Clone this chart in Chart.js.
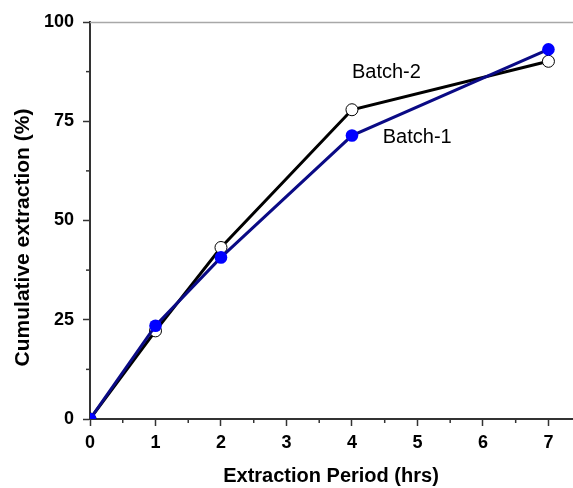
<!DOCTYPE html>
<html>
<head>
<meta charset="utf-8">
<script src="https://cdn.jsdelivr.net/npm/chart.js@4/dist/chart.umd.min.js"></script>
<style>
html,body{margin:0;padding:0;background:#fff;overflow:hidden;}
#wrap{width:573px;height:488px;position:relative;}
canvas{display:block;}
</style>
</head>
<body>
<div id="wrap"><canvas id="c" width="573" height="488"></canvas></div>
<script>
const hours = [0, 1, 2, 4, 7];
const batch1 = [0, 23.5, 40.7, 71.4, 93.1];
const batch2 = [0, 22.2, 43.2, 77.9, 90.1];
const seriesNames = ['Batch-1', 'Batch-2'];
const xTickValues = [0, 0.5, 1, 1.5, 2, 2.5, 3, 3.5, 4, 4.5, 5, 5.5, 6, 6.5, 7];
const xTitle = 'Extraction Period (hrs)';
const yTitle = 'Cumulative extraction (%)';

const toPts = (xs, ys) => xs.map((x, i) => ({x: x, y: ys[i]}));

const decor = {
  id: 'decor',
  afterDraw(chart) {
    const ctx = chart.ctx;
    const ca = chart.chartArea;
    const xs = chart.scales.x, ys = chart.scales.y;
    ctx.save();
    // top frame line
    ctx.strokeStyle = '#a8a8a8';
    ctx.lineWidth = 1.5;
    ctx.beginPath();
    ctx.moveTo(ca.left, ca.top + 0.5);
    ctx.lineTo(chart.width, ca.top + 0.5);
    ctx.stroke();
    // minor ticks
    ctx.strokeStyle = '#333';
    ctx.lineWidth = 1.5;
    xs.ticks.forEach(t => {
      if (Math.abs(t.value - Math.round(t.value)) > 1e-6) {
        const px = xs.getPixelForValue(t.value);
        ctx.beginPath();
        ctx.moveTo(px, ca.bottom);
        ctx.lineTo(px, ca.bottom + 4);
        ctx.stroke();
      }
    });
    ys.ticks.forEach(t => {
      if (Math.abs(t.value % 25) > 1e-6) {
        const py = ys.getPixelForValue(t.value);
        ctx.beginPath();
        ctx.moveTo(ca.left - 4, py);
        ctx.lineTo(ca.left, py);
        ctx.stroke();
      }
    });
    // series labels
    ctx.fillStyle = '#000';
    ctx.font = '20px "Liberation Sans", Arial, sans-serif';
    ctx.textBaseline = 'middle';
    ctx.textAlign = 'left';
    ctx.fillText(seriesNames[1], xs.getPixelForValue(4.0), ys.getPixelForValue(87.4));
    ctx.fillText(seriesNames[0], xs.getPixelForValue(4.47), ys.getPixelForValue(70.9));
    // y title
    ctx.font = 'bold 21px "Liberation Sans", Arial, sans-serif';
    ctx.textAlign = 'center';
    ctx.translate(23, 237.5);
    ctx.rotate(-Math.PI / 2);
    ctx.fillText(yTitle, 0, 0);
    ctx.restore();
  }
};

const tickFont = {family: '"Liberation Sans", Arial, sans-serif', size: 18, weight: 'bold'};

new Chart(document.getElementById('c'), {
  type: 'line',
  data: {
    datasets: [
      {
        label: seriesNames[0],
        data: toPts(hours, batch1),
        borderColor: '#0a0a85',
        borderWidth: 3,
        pointRadius: 6.3,
        pointBackgroundColor: '#0000ff',
        pointBorderColor: '#0000ff',
        pointBorderWidth: 0,
        fill: false,
        tension: 0,
        clip: 0
      },
      {
        label: seriesNames[1],
        data: toPts(hours, batch2),
        borderColor: '#000',
        borderWidth: 3,
        pointRadius: 6,
        pointBackgroundColor: '#fff',
        pointBorderColor: '#000',
        pointBorderWidth: 1,
        fill: false,
        tension: 0,
        clip: 0
      }
    ]
  },
  options: {
    responsive: false,
    animation: false,
    devicePixelRatio: 1,
    layout: {autoPadding: false, padding: {top: 22, right: 1, left: 0, bottom: 0}},
    plugins: {legend: {display: false}, tooltip: {enabled: false}},
    scales: {
      x: {
        type: 'linear',
        min: 0,
        max: 7.36,
        afterBuildTicks: s => { s.ticks = xTickValues.map(v => ({value: v})); },
        afterFit: s => { s.height = 69; s.paddingLeft = 0; s.paddingRight = 0; },
        ticks: {
          autoSkip: false,
          maxRotation: 0,
          color: '#000',
          font: tickFont,
          padding: 6,
          callback: v => Math.abs(v - Math.round(v)) < 1e-6 ? String(Math.round(v)) : ''
        },
        grid: {
          drawOnChartArea: false,
          tickLength: 7,
          tickWidth: 1.5,
          tickColor: c => (c.tick && Math.abs(c.tick.value - Math.round(c.tick.value)) < 1e-6) ? '#333' : 'rgba(0,0,0,0)'
        },
        border: {display: true, color: '#333', width: 2},
        title: {
          display: true,
          text: xTitle,
          color: '#000',
          font: {family: '"Liberation Sans", Arial, sans-serif', size: 20, weight: 'bold'},
          padding: {top: 0, bottom: 0}
        }
      },
      y: {
        type: 'linear',
        min: 0,
        max: 100,
        afterFit: s => { s.width = 90; s.paddingTop = 0; s.paddingBottom = 0; },
        ticks: {
          stepSize: 12.5,
          autoSkip: false,
          color: '#000',
          font: tickFont,
          padding: 9,
          callback: v => Math.abs(v % 25) < 1e-6 ? String(v) : ''
        },
        grid: {
          drawOnChartArea: false,
          tickLength: 7,
          tickWidth: 1.5,
          tickColor: c => (c.tick && Math.abs(c.tick.value % 25) < 1e-6) ? '#333' : 'rgba(0,0,0,0)'
        },
        border: {display: true, color: '#333', width: 2}
      }
    }
  },
  plugins: [decor]
});
</script>
</body>
</html>
